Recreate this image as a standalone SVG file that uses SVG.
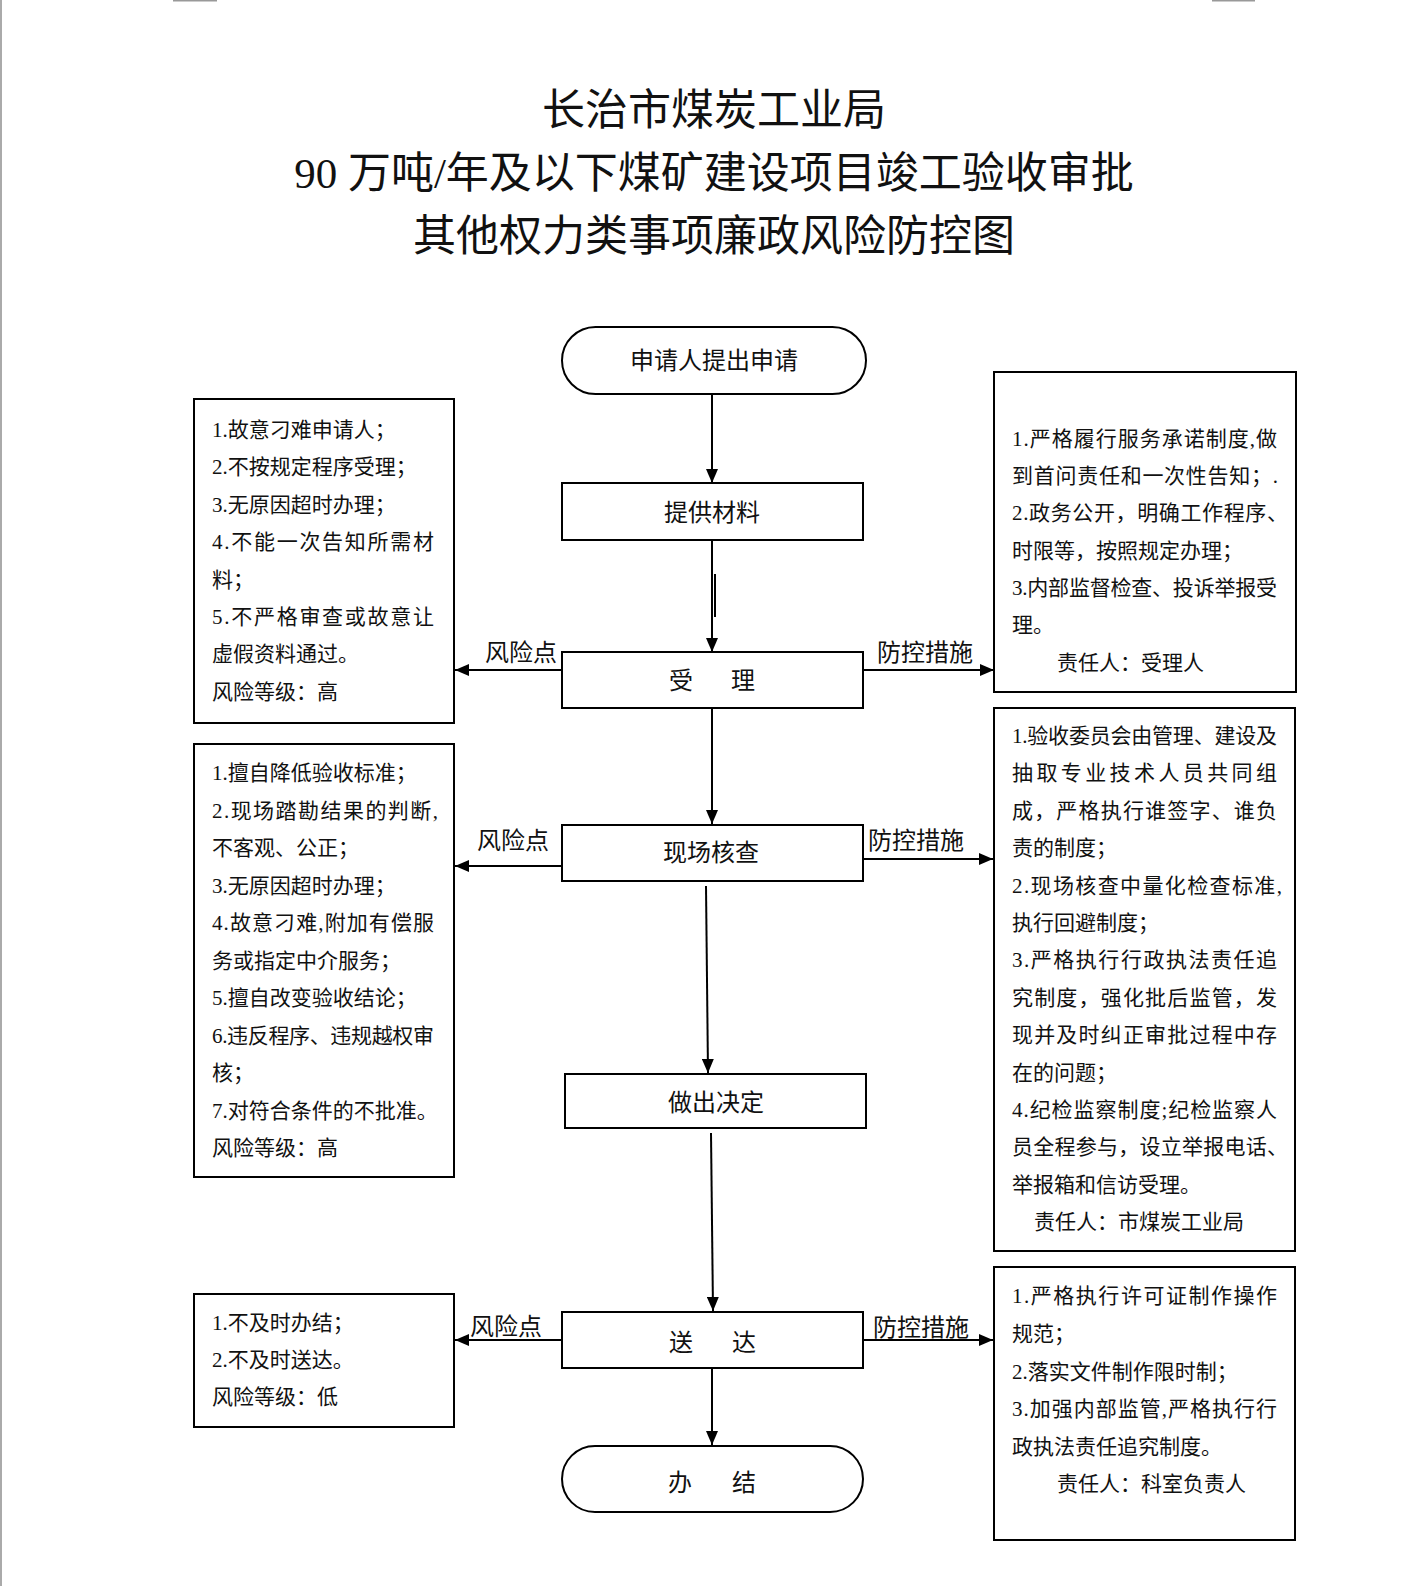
<svg xmlns="http://www.w3.org/2000/svg" width="1425" height="1586" viewBox="0 0 1425 1586">
<defs>
<marker id="ah" viewBox="0 0 14 12" refX="14" refY="6" markerWidth="14" markerHeight="12" markerUnits="userSpaceOnUse" orient="auto"><path d="M0,0 L14,6 L0,12 z" fill="#000"/></marker>
<style>
.box{fill:#fff;stroke:#000;stroke-width:2}
.ln{stroke:#000;stroke-width:2;fill:none}
.ar{stroke:#000;stroke-width:2;fill:none;marker-end:url(#ah)}
.ttl{font-family:'Liberation Serif','Noto Sans CJK SC',serif;font-size:43px;text-anchor:middle;fill:#111}
.nt{font-family:'Noto Sans CJK SC','Liberation Sans',sans-serif;font-size:24px;text-anchor:middle;fill:#111}
.lb{font-family:'Noto Sans CJK SC','Liberation Sans',sans-serif;font-size:24px;text-anchor:middle;fill:#111}
.bt{font-family:'Liberation Serif','Noto Sans CJK SC',serif;font-size:21px;fill:#111}
</style>
</defs>
<rect width="1425" height="1586" fill="#fff"/>
<line x1="1" y1="0" x2="1" y2="1586" stroke="#aaa" stroke-width="2"/>
<line x1="173" y1="0.5" x2="217" y2="0.5" stroke="#999" stroke-width="2"/>
<line x1="1212" y1="0.5" x2="1255" y2="0.5" stroke="#999" stroke-width="2"/>

<g id="title">
<text class="ttl" x="714" y="125">长治市煤炭工业局</text>
<text class="ttl" x="714" y="188">90 万吨/年及以下煤矿建设项目竣工验收审批</text>
<text class="ttl" x="714" y="251">其他权力类事项廉政风险防控图</text>
</g>

<g id="connectors">
<line class="ar" x1="712" y1="394" x2="712" y2="483"/>
<line class="ln" x1="715" y1="574" x2="715" y2="617"/>
<line class="ar" x1="712" y1="540" x2="712" y2="652"/>
<line class="ar" x1="562" y1="670" x2="455" y2="670"/>
<line class="ar" x1="863" y1="670" x2="994" y2="670"/>
<line class="ar" x1="712" y1="708" x2="712" y2="824"/>
<line class="ar" x1="562" y1="866" x2="455" y2="866"/>
<line class="ar" x1="863" y1="859" x2="993" y2="859"/>
<line class="ar" x1="706" y1="886" x2="708" y2="1073"/>
<line class="ar" x1="711" y1="1133" x2="713" y2="1311"/>
<line class="ar" x1="562" y1="1340" x2="455" y2="1340"/>
<line class="ar" x1="863" y1="1340" x2="993" y2="1340"/>
<line class="ar" x1="712" y1="1368" x2="712" y2="1445"/>
<text class="lb" x="521" y="661">风险点</text>
<text class="lb" x="925" y="661">防控措施</text>
<text class="lb" x="513" y="849">风险点</text>
<text class="lb" x="916" y="849">防控措施</text>
<text class="lb" x="506" y="1335">风险点</text>
<text class="lb" x="921" y="1336">防控措施</text>
</g>

<g id="start">
<rect class="box" x="562" y="327" width="304" height="67" rx="33.5" ry="33.5"/>
<text class="nt" x="714" y="369">申请人提出申请</text>
</g>
<g id="materials">
<rect class="box" x="562" y="483" width="301" height="57"/>
<text class="nt" x="712" y="521">提供材料</text>
</g>
<g id="accept">
<rect class="box" x="562" y="652" width="301" height="56"/>
<text class="nt" y="689"><tspan x="681">受</tspan><tspan x="743">理</tspan></text>
</g>
<g id="inspect">
<rect class="box" x="562" y="825" width="301" height="56"/>
<text class="nt" x="711" y="861">现场核查</text>
</g>
<g id="decide">
<rect class="box" x="565" y="1074" width="301" height="54"/>
<text class="nt" x="716" y="1111">做出决定</text>
</g>
<g id="deliver">
<rect class="box" x="562" y="1312" width="301" height="56"/>
<text class="nt" y="1351"><tspan x="681">送</tspan><tspan x="744">达</tspan></text>
</g>
<g id="end">
<rect class="box" x="562" y="1446" width="301" height="66" rx="33" ry="33"/>
<text class="nt" y="1491"><tspan x="680">办</tspan><tspan x="744">结</tspan></text>
</g>

<g id="risk1">
<rect class="box" x="194" y="399" width="260" height="324"/>
<text class="bt" x="212" y="437">1.故意刁难申请人；</text>
<text class="bt" x="212" y="474">2.不按规定程序受理；</text>
<text class="bt" x="212" y="512">3.无原因超时办理；</text>
<text class="bt" x="212" y="549" textLength="222" lengthAdjust="spacing">4.不能一次告知所需材</text>
<text class="bt" x="212" y="587">料；</text>
<text class="bt" x="212" y="624" textLength="222" lengthAdjust="spacing">5.不严格审查或故意让</text>
<text class="bt" x="212" y="661">虚假资料通过。</text>
<text class="bt" x="212" y="699">风险等级：高</text>
</g>

<g id="control1">
<rect class="box" x="994" y="372" width="302" height="320"/>
<text class="bt" x="1012" y="446" textLength="265" lengthAdjust="spacing">1.严格履行服务承诺制度,做</text>
<text class="bt" x="1012" y="483" textLength="266" lengthAdjust="spacing">到首问责任和一次性告知；.</text>
<text class="bt" x="1012" y="520" textLength="276" lengthAdjust="spacing">2.政务公开，明确工作程序、</text>
<text class="bt" x="1012" y="558">时限等，按照规定办理；</text>
<text class="bt" x="1012" y="595" textLength="265" lengthAdjust="spacing">3.内部监督检查、投诉举报受</text>
<text class="bt" x="1012" y="632">理。</text>
<text class="bt" x="1057" y="670">责任人：受理人</text>
</g>

<g id="risk2">
<rect class="box" x="194" y="744" width="260" height="433"/>
<text class="bt" x="212" y="780">1.擅自降低验收标准；</text>
<text class="bt" x="212" y="818" textLength="226" lengthAdjust="spacing">2.现场踏勘结果的判断,</text>
<text class="bt" x="212" y="855">不客观、公正；</text>
<text class="bt" x="212" y="893">3.无原因超时办理；</text>
<text class="bt" x="212" y="930" textLength="222" lengthAdjust="spacing">4.故意刁难,附加有偿服</text>
<text class="bt" x="212" y="968">务或指定中介服务；</text>
<text class="bt" x="212" y="1005">5.擅自改变验收结论；</text>
<text class="bt" x="212" y="1043" textLength="222" lengthAdjust="spacing">6.违反程序、违规越权审</text>
<text class="bt" x="212" y="1080">核；</text>
<text class="bt" x="212" y="1118">7.对符合条件的不批准。</text>
<text class="bt" x="212" y="1155">风险等级：高</text>
</g>

<g id="control2">
<rect class="box" x="994" y="708" width="301" height="543"/>
<text class="bt" x="1012" y="743" textLength="265" lengthAdjust="spacing">1.验收委员会由管理、建设及</text>
<text class="bt" x="1012" y="780" textLength="265" lengthAdjust="spacing">抽取专业技术人员共同组</text>
<text class="bt" x="1012" y="818" textLength="265" lengthAdjust="spacing">成，严格执行谁签字、谁负</text>
<text class="bt" x="1012" y="855">责的制度；</text>
<text class="bt" x="1012" y="893" textLength="270" lengthAdjust="spacing">2.现场核查中量化检查标准,</text>
<text class="bt" x="1012" y="930">执行回避制度；</text>
<text class="bt" x="1012" y="967" textLength="265" lengthAdjust="spacing">3.严格执行行政执法责任追</text>
<text class="bt" x="1012" y="1005" textLength="265" lengthAdjust="spacing">究制度，强化批后监管，发</text>
<text class="bt" x="1012" y="1042" textLength="265" lengthAdjust="spacing">现并及时纠正审批过程中存</text>
<text class="bt" x="1012" y="1080">在的问题；</text>
<text class="bt" x="1012" y="1117" textLength="265" lengthAdjust="spacing">4.纪检监察制度;纪检监察人</text>
<text class="bt" x="1012" y="1154" textLength="276" lengthAdjust="spacing">员全程参与，设立举报电话、</text>
<text class="bt" x="1012" y="1192">举报箱和信访受理。</text>
<text class="bt" x="1034" y="1229">责任人：市煤炭工业局</text>
</g>

<g id="risk3">
<rect class="box" x="194" y="1294" width="260" height="133"/>
<text class="bt" x="212" y="1330">1.不及时办结；</text>
<text class="bt" x="212" y="1367">2.不及时送达。</text>
<text class="bt" x="212" y="1404">风险等级：低</text>
</g>

<g id="control3">
<rect class="box" x="994" y="1267" width="301" height="273"/>
<text class="bt" x="1012" y="1303" textLength="265" lengthAdjust="spacing">1.严格执行许可证制作操作</text>
<text class="bt" x="1012" y="1341">规范；</text>
<text class="bt" x="1012" y="1379">2.落实文件制作限时制；</text>
<text class="bt" x="1012" y="1416" textLength="265" lengthAdjust="spacing">3.加强内部监管,严格执行行</text>
<text class="bt" x="1012" y="1454">政执法责任追究制度。</text>
<text class="bt" x="1057" y="1491">责任人：科室负责人</text>
</g>
</svg>
